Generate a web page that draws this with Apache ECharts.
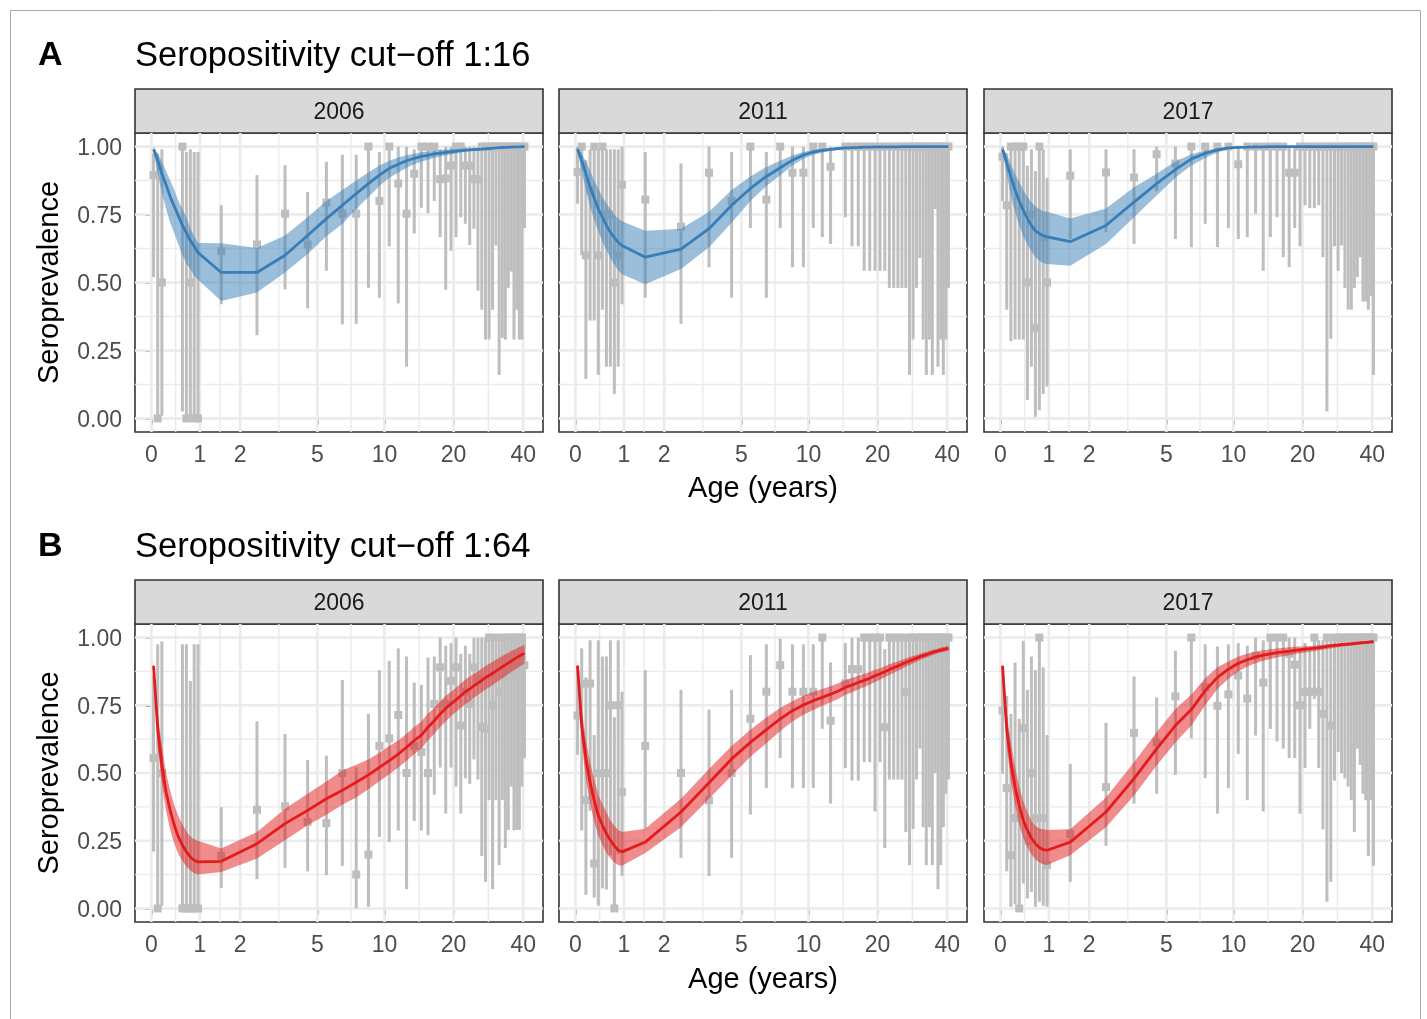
<!DOCTYPE html>
<html><head><meta charset="utf-8">
<script src="https://cdn.jsdelivr.net/npm/echarts@6/dist/echarts.min.js"></script>
<style>html,body{margin:0;padding:0;background:#fff}#c{width:1427px;height:1019px}</style>
</head><body><div id="c"></div>
<script>
// ---------- DATA ----------
const AGES = [0.042,0.125,0.208,0.292,0.375,0.458,0.542,0.625,0.708,0.792,0.875,0.958,
  1.5,2.5,3.5,4.5,5.5,6.5,7.5,8.5,9.5,10.5,
  11.5,12.5,13.5,14.5,15.5,16.5,17.5,18.5,19.5,20.5,
  21.5,22.5,23.5,24.5,25.5,26.5,27.5,28.5,29.5,30.5,
  31.5,32.5,33.5,34.5,35.5,36.5,37.5,38.5,39.5,40.5];
const X_TICKS = [0,1,2,5,10,20,40];
const Y_TICKS = [0,0.25,0.5,0.75,1];
const YEARS = ['2006','2011','2017'];
const TITLES = ['Seropositivity cut\u2212off 1:16','Seropositivity cut\u2212off 1:64'];
const TAGS = ['A','B'];

// model fit (mean, lower, upper) at AGES
const FIT_A06 = [0.99,0.95,0.90,0.86,0.815,0.78,0.745,0.71,0.683,0.654,0.633,0.61,
  0.537,0.537,0.60,0.673,0.735,0.784,0.827,0.864,0.895,0.92,
  0.935,0.948,0.957,0.964,0.968,0.973,0.976,0.979,0.981,0.983,
  0.985,0.987,0.988,0.989,0.990,0.991,0.992,0.993,0.994,0.995,
  0.996,0.997,0.997,0.998,0.998,0.999,0.999,0.999,1,1];
const LWR_A06 = [0.98,0.90,0.83,0.77,0.72,0.68,0.64,0.60,0.57,0.55,0.525,0.51,
  0.432,0.463,0.537,0.605,0.67,0.715,0.77,0.815,0.855,0.885,
  0.905,0.922,0.935,0.945,0.952,0.959,0.964,0.968,0.972,0.975,
  0.978,0.981,0.983,0.985,0.986,0.988,0.989,0.99,0.991,0.992,
  0.993,0.994,0.995,0.996,0.996,0.997,0.997,0.998,0.998,0.998];
const UPR_A06 = [1,0.975,0.945,0.91,0.875,0.84,0.80,0.77,0.74,0.70,0.67,0.645,
  0.644,0.627,0.673,0.74,0.80,0.84,0.875,0.905,0.93,0.948,
  0.96,0.968,0.974,0.979,0.982,0.985,0.987,0.989,0.99,0.991,
  0.992,0.993,0.994,0.995,0.995,0.996,0.996,0.997,0.997,0.998,
  0.998,0.998,0.999,0.999,0.999,0.999,1,1,1,1];

const FIT_A11 = [0.99,0.95,0.90,0.85,0.81,0.77,0.74,0.71,0.685,0.665,0.648,0.636,
  0.593,0.623,0.698,0.784,0.846,0.89,0.922,0.95,0.969,0.98,
  0.986,0.99,0.993,0.995,0.996,0.997,0.998,0.998,0.999,0.999,
  0.999,0.999,0.999,0.999,1,1,1,1,1,1,
  1,1,1,1,1,1,1,1,1,1];
const LWR_A11 = [0.98,0.91,0.84,0.78,0.73,0.69,0.65,0.62,0.59,0.565,0.545,0.53,
  0.494,0.55,0.63,0.72,0.80,0.855,0.895,0.93,0.955,0.97,
  0.978,0.984,0.988,0.991,0.993,0.994,0.995,0.996,0.997,0.997,
  0.998,0.998,0.998,0.998,0.999,0.999,0.999,0.999,0.999,0.999,
  0.999,0.999,0.999,1,1,1,1,1,1,1];
const UPR_A11 = [1,0.975,0.945,0.91,0.875,0.845,0.815,0.79,0.77,0.75,0.735,0.725,
  0.69,0.698,0.76,0.84,0.89,0.925,0.948,0.967,0.98,0.988,
  0.992,0.995,0.997,0.998,0.999,0.999,1,1,1,1,
  1,1,1,1,1,1,1,1,1,1,
  1,1,1,1,1,1,1,1,1,1];

const FIT_A17 = [0.99,0.94,0.89,0.84,0.80,0.765,0.735,0.71,0.69,0.68,0.672,0.668,
  0.65,0.71,0.796,0.864,0.915,0.955,0.975,0.988,0.995,0.997,
  0.998,0.999,0.999,1,1,1,1,1,1,1,
  1,1,1,1,1,1,1,1,1,1,
  1,1,1,1,1,1,1,1,1,1];
const LWR_A17 = [0.98,0.90,0.82,0.76,0.71,0.67,0.64,0.615,0.595,0.58,0.572,0.568,
  0.562,0.642,0.74,0.82,0.885,0.93,0.958,0.978,0.99,0.994,
  0.996,0.997,0.998,0.999,0.999,0.999,1,1,1,1,
  1,1,1,1,1,1,1,1,1,1,
  1,1,1,1,1,1,1,1,1,1];
const UPR_A17 = [1,0.97,0.935,0.90,0.87,0.84,0.815,0.795,0.78,0.77,0.762,0.76,
  0.735,0.772,0.85,0.90,0.945,0.972,0.986,0.994,0.998,0.999,
  1,1,1,1,1,1,1,1,1,1,
  1,1,1,1,1,1,1,1,1,1,
  1,1,1,1,1,1,1,1,1,1];

const FIT_B06 = [0.896,0.663,0.528,0.429,0.362,0.307,0.264,0.233,0.209,0.19,0.178,0.172,
  0.174,0.239,0.313,0.362,0.405,0.436,0.466,0.493,0.521,0.546,
  0.57,0.595,0.62,0.64,0.669,0.693,0.718,0.739,0.755,0.77,
  0.785,0.80,0.81,0.822,0.832,0.842,0.852,0.86,0.868,0.876,
  0.884,0.892,0.899,0.906,0.913,0.92,0.926,0.932,0.937,0.942];
const LWR_B06 = [0.87,0.60,0.46,0.36,0.29,0.24,0.20,0.175,0.155,0.14,0.13,0.125,
  0.135,0.184,0.252,0.307,0.346,0.383,0.41,0.44,0.47,0.495,
  0.52,0.545,0.57,0.59,0.62,0.645,0.67,0.69,0.71,0.725,
  0.74,0.755,0.765,0.778,0.788,0.798,0.808,0.816,0.825,0.833,
  0.841,0.85,0.857,0.865,0.872,0.879,0.886,0.892,0.898,0.904];
const UPR_B06 = [0.915,0.72,0.60,0.50,0.435,0.38,0.34,0.31,0.285,0.265,0.255,0.25,
  0.221,0.282,0.368,0.423,0.469,0.509,0.53,0.55,0.575,0.60,
  0.62,0.645,0.67,0.69,0.72,0.74,0.765,0.785,0.80,0.815,
  0.83,0.845,0.855,0.866,0.876,0.886,0.895,0.903,0.91,0.918,
  0.925,0.932,0.938,0.944,0.95,0.955,0.96,0.965,0.969,0.973];

const FIT_B11 = [0.896,0.675,0.552,0.466,0.399,0.344,0.307,0.276,0.252,0.231,0.215,0.209,
  0.245,0.356,0.464,0.552,0.613,0.66,0.70,0.73,0.751,0.767,
  0.779,0.791,0.803,0.816,0.825,0.834,0.842,0.85,0.859,0.866,
  0.874,0.882,0.889,0.895,0.902,0.908,0.914,0.919,0.924,0.929,
  0.933,0.937,0.941,0.945,0.948,0.951,0.954,0.956,0.958,0.96];
const LWR_B11 = [0.875,0.61,0.48,0.39,0.32,0.27,0.235,0.205,0.185,0.17,0.16,0.158,
  0.205,0.30,0.405,0.49,0.56,0.61,0.655,0.69,0.715,0.733,
  0.748,0.761,0.774,0.788,0.798,0.808,0.817,0.826,0.836,0.844,
  0.853,0.862,0.87,0.877,0.885,0.892,0.899,0.905,0.911,0.917,
  0.922,0.926,0.931,0.935,0.939,0.942,0.945,0.947,0.949,0.951];
const UPR_B11 = [0.915,0.735,0.62,0.54,0.475,0.42,0.385,0.355,0.325,0.305,0.29,0.282,
  0.294,0.405,0.515,0.60,0.66,0.705,0.74,0.765,0.785,0.80,
  0.81,0.82,0.831,0.843,0.851,0.859,0.866,0.873,0.881,0.887,
  0.894,0.901,0.907,0.912,0.918,0.923,0.928,0.932,0.936,0.94,
  0.944,0.947,0.951,0.954,0.957,0.96,0.963,0.965,0.967,0.969];

const FIT_B17 = [0.896,0.663,0.54,0.448,0.38,0.325,0.288,0.26,0.239,0.225,0.217,0.215,
  0.245,0.356,0.479,0.589,0.675,0.734,0.804,0.853,0.883,0.905,
  0.918,0.928,0.935,0.94,0.944,0.947,0.95,0.953,0.955,0.957,
  0.959,0.961,0.963,0.965,0.967,0.969,0.971,0.972,0.974,0.975,
  0.976,0.977,0.978,0.979,0.98,0.981,0.982,0.983,0.984,0.985];
const LWR_B17 = [0.875,0.60,0.47,0.38,0.31,0.26,0.225,0.20,0.182,0.17,0.163,0.16,
  0.196,0.30,0.417,0.528,0.613,0.675,0.75,0.81,0.848,0.875,
  0.893,0.905,0.914,0.921,0.927,0.931,0.935,0.939,0.942,0.945,
  0.948,0.95,0.953,0.955,0.958,0.96,0.962,0.964,0.966,0.968,
  0.969,0.971,0.972,0.973,0.974,0.975,0.976,0.977,0.978,0.979];
const UPR_B17 = [0.915,0.72,0.61,0.52,0.45,0.395,0.355,0.325,0.305,0.295,0.292,0.29,
  0.292,0.41,0.54,0.65,0.736,0.79,0.85,0.89,0.912,0.93,
  0.94,0.948,0.953,0.957,0.96,0.962,0.964,0.966,0.967,0.968,
  0.969,0.97,0.972,0.973,0.975,0.976,0.978,0.979,0.98,0.981,
  0.982,0.983,0.984,0.985,0.986,0.987,0.987,0.988,0.989,0.99];

// observed points: [age, estimate, lower, upper]
const PTS_A06 = [
  [0.042,0.895,0.52,0.975],[0.125,0,0,0.975],[0.208,0.5,0.01,0.99],[0.625,1,0.025,1],[0.708,0,0,0.98],[0.792,0.5,0.01,0.99],[0.875,0,0,0.98],[0.958,0,0,0.98],
  [1.5,0.615,0.42,0.784],[2.5,0.64,0.306,0.895],[3.5,0.753,0.475,0.932],[4.5,0.64,0.405,0.833],[5.5,0.794,0.543,0.944],[6.5,0.753,0.346,0.97],[7.5,0.753,0.348,0.97],[8.5,1,0.48,1],[9.5,0.8,0.444,0.98],[10.5,1,0.633,1],
  [11.5,0.864,0.423,1],[12.5,0.753,0.19,1],[13.5,0.9,0.68,0.99],[14.5,1,0.775,1],[15.5,1,0.755,1],[16.5,1,0.8,1],[17.5,0.88,0.667,0.99],[18.5,0.883,0.473,1],[19.5,0.93,0.617,1],[20.5,1,0.667,1],
  [21.5,1,0.74,1],[22.5,0.93,0.716,1],[23.5,0.93,0.638,1],[24.5,0.88,0.698,1],[25.5,0.88,0.47,1],[26.5,1,0.4,1],[27.5,1,0.29,1],[28.5,1,0.29,1],[29.5,1,0.4,1],[30.5,1,0.636,1],
  [31.5,1,0.16,1],[32.5,1,0.296,1],[33.5,1,0.29,1],[34.5,1,0.48,1],[35.5,1,0.54,1],[36.5,1,0.29,1],[37.5,1,0.4,1],[38.5,1,0.29,1],[39.5,1,0.29,1],[40.5,1,0.7,1]];
const PTS_A11 = [
  [0.042,0.907,0.79,1],[0.125,1,0.6,1],[0.208,0.6,0.145,0.95],[0.292,0.84,0.36,0.99],[0.375,1,0.36,1],[0.458,0.6,0.16,0.99],[0.542,1,0.4,1],[0.625,0.75,0.19,0.99],[0.708,0.75,0.19,0.99],[0.792,0.5,0.09,0.99],[0.875,0.6,0.19,0.99],[0.958,0.86,0.42,1],
  [1.5,0.805,0.444,0.98],[2.5,0.706,0.348,0.938],[3.5,0.904,0.556,1],[4.5,0.8,0.444,0.98],[5.5,1,0.7,1],[6.5,0.805,0.444,0.98],[7.5,1,0.7,1],[8.5,0.904,0.556,1],[9.5,0.904,0.556,1],[10.5,1,0.7,1],
  [11.5,1,0.667,1],[12.5,0.926,0.642,1],[14.5,1,0.74,1],[15.5,1,0.633,1],[16.5,1,0.633,1],[17.5,1,0.543,1],[18.5,1,0.543,1],[19.5,1,0.543,1],[20.5,1,0.543,1],
  [21.5,1,0.543,1],[22.5,1,0.48,1],[23.5,1,0.48,1],[24.5,1,0.48,1],[25.5,1,0.48,1],[26.5,1,0.48,1],[27.5,1,0.16,1],[28.5,1,0.29,1],[29.5,1,0.48,1],[30.5,1,0.59,1],
  [31.5,1,0.29,1],[32.5,1,0.16,1],[33.5,1,0.29,1],[34.5,1,0.16,1],[35.5,1,0.77,1],[36.5,1,0.19,1],[37.5,1,0.29,1],[38.5,1,0.16,1],[39.5,1,0.29,1],[40.5,1,0.48,1]];
const PTS_A17 = [
  [0.042,0.963,0.8,1],[0.125,0.784,0.4,0.975],[0.208,1,0.284,1],[0.292,1,0.29,1],[0.375,1,0.29,1],[0.458,1,0.29,1],[0.542,0.5,0.068,0.93],[0.625,0.75,0.19,0.99],[0.708,0.333,0.006,0.91],[0.792,1,0.03,1],[0.875,0.667,0.09,0.99],[0.958,0.5,0.117,0.885],
  [1.5,0.893,0.66,0.99],[2.5,0.905,0.685,0.99],[3.5,0.886,0.642,0.99],[4.5,0.972,0.836,1],[5.5,0.938,0.66,1],[6.5,1,0.63,1],[7.5,1,0.716,1],[8.5,1,0.63,1],[9.5,1,0.7,1],[10.5,0.935,0.66,1],
  [11.5,1,0.667,1],[12.5,1,0.753,1],[13.5,1,0.543,1],[14.5,1,0.667,1],[15.5,1,0.74,1],[16.5,1,0.593,1],[17.5,0.904,0.556,1],[18.5,0.904,0.7,1],[19.5,1,0.633,1],[20.5,1,0.784,1],
  [21.5,1,0.774,1],[22.5,1,0.774,1],[23.5,1,0.784,1],[24.5,1,0.593,1],[25.5,1,0.025,1],[26.5,1,0.293,1],[27.5,1,0.633,1],[28.5,1,0.543,1],[29.5,1,0.636,1],[30.5,1,0.48,1],
  [31.5,1,0.4,1],[32.5,1,0.4,1],[33.5,1,0.48,1],[34.5,1,0.52,1],[35.5,1,0.593,1],[36.5,1,0.43,1],[37.5,1,0.43,1],[38.5,1,0.4,1],[39.5,1,0.45,1],[40.5,1,0.16,1]];
const PTS_B06 = [
  [0.042,0.555,0.21,0.86],[0.125,0,0,0.975],[0.208,0.5,0.01,0.985],[0.625,0,0,0.975],[0.708,0,0,0.975],[0.792,0,0,0.84],[0.875,0,0,0.975],[0.958,0,0,0.975],
  [1.5,0.194,0.076,0.374],[2.5,0.364,0.108,0.69],[3.5,0.377,0.15,0.644],[4.5,0.319,0.137,0.548],[5.5,0.315,0.123,0.564],[6.5,0.5,0.157,0.843],[7.5,0.125,0,0.52],[8.5,0.199,0.006,0.718],[9.5,0.6,0.264,0.88],[10.5,0.628,0.245,0.914],
  [11.5,0.714,0.288,0.96],[12.5,0.5,0.071,0.93],[13.5,0.6,0.323,0.834],[14.5,0.577,0.288,0.825],[15.5,0.5,0.27,0.926],[16.5,0.755,0.42,0.93],[17.5,0.89,0.52,1],[18.5,0.755,0.35,0.97],[19.5,0.84,0.52,0.98],[20.5,0.89,0.45,1],
  [21.5,0.675,0.35,0.94],[22.5,0.8,0.48,0.97],[23.5,0.755,0.46,0.94],[24.5,0.89,0.55,1],[25.5,0.85,0.476,1],[26.5,0.67,0.194,1],[27.5,0.663,0.098,1],[28.5,1,0.4,1],[29.5,0.75,0.071,1],[30.5,1,0.4,1],
  [31.5,0.8,0.16,1],[32.5,1,0.4,1],[33.5,0.85,0.223,1],[34.5,1,0.29,1],[35.5,1,0.45,1],[36.5,0.85,0.288,1],[37.5,1,0.29,1],[38.5,1,0.29,1],[39.5,1,0.45,1],[40.5,0.898,0.555,1]];
const PTS_B11 = [
  [0.042,0.712,0.567,0.896],[0.125,0.83,0.288,0.96],[0.208,0.4,0.05,0.853],[0.292,0.83,0.36,0.99],[0.375,0.166,0.04,0.64],[0.458,0.5,0.01,0.99],[0.542,0.5,0.074,0.93],[0.625,0.5,0.07,0.93],[0.708,0.75,0.196,0.99],[0.792,0,0,0.706],[0.875,0.75,0.2,0.99],[0.958,0.43,0.12,0.8],
  [1.5,0.6,0.294,0.88],[2.5,0.5,0.187,0.807],[3.5,0.399,0.12,0.734],[4.5,0.5,0.187,0.807],[5.5,0.7,0.347,0.935],[6.5,0.8,0.444,0.975],[7.5,0.898,0.555,0.996],[8.5,0.8,0.444,0.975],[9.5,0.8,0.444,0.975],[10.5,0.8,0.444,0.975],
  [11.5,1,0.663,1],[12.5,0.693,0.387,0.908],[14.5,0.831,0.518,0.98],[15.5,0.883,0.472,1],[16.5,0.883,0.472,1],[17.5,1,0.54,1],[18.5,1,0.54,1],[19.5,1,0.358,1],[20.5,1,0.54,1],
  [21.5,0.669,0.223,0.957],[22.5,1,0.476,1],[23.5,1,0.476,1],[24.5,1,0.476,1],[25.5,1,0.476,1],[26.5,0.8,0.282,1],[27.5,1,0.16,1],[28.5,1,0.294,1],[29.5,1,0.476,1],[30.5,1,0.59,1],
  [31.5,1,0.3,1],[32.5,1,0.16,1],[33.5,1,0.3,1],[34.5,1,0.16,1],[35.5,1,0.5,1],[36.5,1,0.071,1],[37.5,1,0.16,1],[38.5,1,0.3,1],[39.5,1,0.423,1],[40.5,1,0.476,1]];
const PTS_B17 = [
  [0.042,0.73,0.497,0.89],[0.125,0.444,0.137,0.785],[0.208,0.196,0.006,0.718],[0.292,0.333,0.015,0.908],[0.375,0,0,0.7],[0.458,0.665,0.092,0.988],[0.542,0.25,0.037,0.807],[0.625,0.5,0.061,0.93],[0.708,0.333,0.006,0.88],[0.792,1,0.025,1],[0.875,0.333,0.01,0.89],[0.958,0.16,0.006,0.64],
  [1.5,0.276,0.098,0.534],[2.5,0.448,0.231,0.685],[3.5,0.648,0.387,0.856],[4.5,0.613,0.423,0.779],[5.5,0.783,0.493,0.951],[6.5,1,0.628,1],[7.5,0.816,0.481,0.975],[8.5,0.748,0.35,0.967],[9.5,0.79,0.444,0.975],[10.5,0.86,0.57,0.98],
  [11.5,0.775,0.4,0.97],[12.5,0.933,0.638,1],[13.5,0.834,0.358,0.99],[14.5,1,0.663,1],[15.5,1,0.616,1],[16.5,1,0.59,1],[17.5,0.94,0.555,1],[18.5,0.9,0.555,1],[19.5,0.75,0.35,0.96],[20.5,0.8,0.518,0.98],
  [21.5,0.8,0.663,0.96],[22.5,1,0.773,1],[23.5,0.8,0.518,0.99],[24.5,0.718,0.292,0.99],[25.5,1,0.025,1],[26.5,0.675,0.098,1],[27.5,1,0.472,1],[28.5,1,0.577,1],[29.5,1,0.5,1],[30.5,1,0.48,1],
  [31.5,1,0.45,1],[32.5,1,0.4,1],[33.5,1,0.282,1],[34.5,1,0.59,1],[35.5,1,0.53,1],[36.5,1,0.423,1],[37.5,1,0.4,1],[38.5,1,0.194,1],[39.5,1,0.4,1],[40.5,1,0.157,1]];

// ---------- LAYOUT / STYLE ----------
const FONT = "'Liberation Sans', Arial, Helvetica, sans-serif";
const tr = a => Math.asinh(a / 2);           // pseudo-log (sigma = 1) age scale
const X_MIN = -0.163, X_MAX = 3.886;
const LEFTS = [135, 559, 984];
const PW = 408;
const ROWS = [{top: 133, h: 299, strip: 89, sh: 44, tagY: 56, xTitleY: 489},
              {top: 624, h: 298, strip: 580, sh: 44, tagY: 547, xTitleY: 980}];
const COLORS = [{line: '#377EB8', band: 'rgba(55,126,184,0.5)'},
                {line: '#E41A1C', band: 'rgba(228,26,28,0.5)'}];
const GRAY = '#BEBEBE';

const PANELS = [
  [ {pts: PTS_A06, fit: FIT_A06, lwr: LWR_A06, upr: UPR_A06},
    {pts: PTS_A11, fit: FIT_A11, lwr: LWR_A11, upr: UPR_A11},
    {pts: PTS_A17, fit: FIT_A17, lwr: LWR_A17, upr: UPR_A17} ],
  [ {pts: PTS_B06, fit: FIT_B06, lwr: LWR_B06, upr: UPR_B06},
    {pts: PTS_B11, fit: FIT_B11, lwr: LWR_B11, upr: UPR_B11},
    {pts: PTS_B17, fit: FIT_B17, lwr: LWR_B17, upr: UPR_B17} ]
];

const X_T = X_TICKS.map(tr);
const X_MINOR = X_T.slice(1).map((t, i) => (t + X_T[i]) / 2);
const Y_MINOR = Y_TICKS.slice(1).map((v, i) => (v + Y_TICKS[i]) / 2);

const grids = [], xAxes = [], yAxes = [], series = [], graphics = [];

graphics.push({type: 'rect', shape: {x: 10.5, y: 10.5, width: 1410, height: 1030},
  style: {fill: 'none', stroke: '#AAAAAA', lineWidth: 1}, silent: true});

ROWS.forEach((row, r) => {
  graphics.push({type: 'text', x: 38, y: row.tagY, style: {text: TAGS[r], font: 'bold 34px ' + FONT,
    fill: '#000', align: 'left', verticalAlign: 'middle', textAlign: 'left', textVerticalAlign: 'middle'}});
  graphics.push({type: 'text', x: 135, y: row.tagY, style: {text: TITLES[r], font: '34.5px ' + FONT,
    fill: '#000', align: 'left', verticalAlign: 'middle', textAlign: 'left', textVerticalAlign: 'middle'}});
  graphics.push({type: 'text', x: 50, y: row.top + row.h / 2, rotation: Math.PI / 2,
    style: {text: 'Seroprevalence', font: '29px ' + FONT, fill: '#000',
      align: 'center', verticalAlign: 'middle', textAlign: 'center', textVerticalAlign: 'middle'}});
  graphics.push({type: 'text', x: LEFTS[1] + PW / 2, y: row.xTitleY,
    style: {text: 'Age (years)', font: '29px ' + FONT, fill: '#000',
      align: 'center', verticalAlign: 'middle', textAlign: 'center', textVerticalAlign: 'middle'}});

  LEFTS.forEach((left, c) => {
    const gi = r * 3 + c;
    const P = PANELS[r][c];
    const col = COLORS[r];
    // strip
    graphics.push({type: 'rect', shape: {x: left, y: row.strip, width: PW, height: row.sh},
      style: {fill: '#D9D9D9', stroke: '#333333', lineWidth: 1.6}});
    graphics.push({type: 'text', x: left + PW / 2, y: row.strip + row.sh / 2 + 2,
      style: {text: YEARS[c], font: '23px ' + FONT, fill: '#1A1A1A',
        align: 'center', verticalAlign: 'middle', textAlign: 'center', textVerticalAlign: 'middle'}});

    grids.push({left: left, top: row.top, width: PW, height: row.h, show: true,
      borderColor: '#333333', borderWidth: 1.6, backgroundColor: '#fff', containLabel: false});
    xAxes.push({gridIndex: gi, type: 'value', min: X_MIN, max: X_MAX,
      axisLine: {show: false}, splitLine: {show: false},
      axisTick: {show: true, customValues: X_T, length: 6, lineStyle: {color: '#333333', width: 1.6}},
      axisLabel: {show: true, customValues: X_T, margin: 12, color: '#4D4D4D', fontSize: 23, fontFamily: FONT,
        formatter: v => { const i = X_T.findIndex(t => Math.abs(t - v) < 1e-6); return i >= 0 ? String(X_TICKS[i]) : ''; }}});
    yAxes.push({gridIndex: gi, type: 'value', min: -0.05, max: 1.05,
      axisLine: {show: false}, splitLine: {show: false},
      axisTick: {show: c === 0, customValues: Y_TICKS, length: 6, lineStyle: {color: '#333333', width: 1.6}},
      axisLabel: {show: c === 0, customValues: Y_TICKS, margin: 13,
        formatter: v => '{t|' + v.toFixed(2) + '}',
        rich: {t: {color: '#4D4D4D', fontSize: 23, fontFamily: FONT, padding: [4, 0, 0, 0]}}}});

    // grid lines
    series.push({type: 'custom', xAxisIndex: gi, yAxisIndex: gi, z: 1, silent: true,
      data: [[0, 0]],
      renderItem: (params, api) => {
        const cs = params.coordSys; const ch = [];
        const vline = (t, w) => { const x = api.coord([t, 0])[0];
          ch.push({type: 'line', shape: {x1: x, y1: cs.y, x2: x, y2: cs.y + cs.height}, style: {stroke: '#EBEBEB', lineWidth: w}}); };
        const hline = (v, w) => { const y = api.coord([0, v])[1];
          ch.push({type: 'line', shape: {x1: cs.x, y1: y, x2: cs.x + cs.width, y2: y}, style: {stroke: '#EBEBEB', lineWidth: w}}); };
        X_MINOR.forEach(t => vline(t, 1.4)); Y_MINOR.forEach(v => hline(v, 1.4));
        X_T.forEach(t => vline(t, 2.6)); Y_TICKS.forEach(v => hline(v, 2.6));
        return {type: 'group', children: ch};
      }});
    // error bars
    series.push({type: 'custom', xAxisIndex: gi, yAxisIndex: gi, z: 2, silent: true,
      data: P.pts.map(p => [tr(p[0]), p[2], p[3]]),
      encode: {x: 0, y: [1, 2]},
      renderItem: (params, api) => {
        const a = api.coord([api.value(0), api.value(1)]);
        const b = api.coord([api.value(0), api.value(2)]);
        return {type: 'line', shape: {x1: a[0], y1: a[1], x2: b[0], y2: b[1]}, style: {stroke: GRAY, lineWidth: 3}};
      }});
    // point estimates
    series.push({type: 'scatter', xAxisIndex: gi, yAxisIndex: gi, z: 3, silent: true,
      symbol: 'rect', symbolSize: 8, itemStyle: {color: GRAY, opacity: 1},
      data: P.pts.map(p => [tr(p[0]), p[1]])});
    // confidence ribbon
    series.push({type: 'custom', xAxisIndex: gi, yAxisIndex: gi, z: 4, silent: true,
      data: AGES.map((a, i) => [tr(a), P.lwr[i], P.upr[i]]),
      encode: {x: 0, y: [1, 2]},
      renderItem: (params, api) => {
        if (params.dataIndex !== 0) return null;
        const pts = [];
        AGES.forEach((a, i) => pts.push(api.coord([tr(a), P.upr[i]])));
        for (let i = AGES.length - 1; i >= 0; i--) pts.push(api.coord([tr(AGES[i]), P.lwr[i]]));
        return {type: 'polygon', shape: {points: pts}, style: {fill: col.band}};
      }});
    // fitted line
    series.push({type: 'line', xAxisIndex: gi, yAxisIndex: gi, z: 5, silent: true,
      showSymbol: false, symbol: 'none', lineStyle: {color: col.line, width: 2.8},
      data: AGES.map((a, i) => [tr(a), P.fit[i]])});
  });
});

const chart = echarts.init(document.getElementById('c'), null, {renderer: 'canvas'});
chart.setOption({
  animation: false, backgroundColor: '#fff',
  textStyle: {fontFamily: FONT},
  grid: grids, xAxis: xAxes, yAxis: yAxes, series: series, graphic: graphics
});
</script></body></html>
